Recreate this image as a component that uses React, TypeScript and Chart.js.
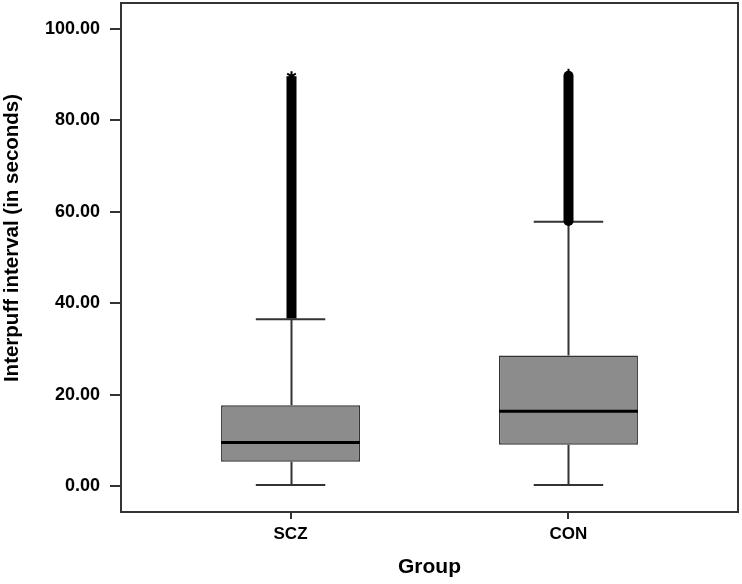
import React, { useEffect, useRef } from 'react';
import { Chart, registerables } from 'chart.js';

Chart.register(...registerables);

// ---- Data ----
const groups = ['SCZ', 'CON'];
const groupPositions = [1, 2];
const q1 = [5.4, 9.1];
const medians = [9.6, 16.4];
const q3 = [17.7, 28.6];
const whiskerLow = [0.3, 0.3];
const whiskerHigh = [36.5, 57.8];
const outlierLow = [36.7, 58.0];
const outlierHigh = [89.6, 89.7];
const yTickValues = [0, 20, 40, 60, 80, 100];
const yTitle = 'Interpuff interval (in seconds)';

const FONT = "'Liberation Sans', Arial, sans-serif";
const DARK = '#333333';

const boxExtras = {
  id: 'boxExtras',
  beforeDatasetsDraw(chart: any) {
    const { ctx, scales } = chart;
    const x = scales.x;
    const y = scales.y;
    ctx.save();
    ctx.strokeStyle = DARK;
    ctx.lineWidth = 2;
    groupPositions.forEach((p, i) => {
      const cx = Math.round(x.getPixelForValue(p)) + 0.5;
      const capL = x.getPixelForValue(p - 0.125);
      const capR = x.getPixelForValue(p + 0.125);
      ctx.beginPath();
      ctx.moveTo(cx, y.getPixelForValue(whiskerLow[i]));
      ctx.lineTo(cx, y.getPixelForValue(q1[i]));
      ctx.moveTo(cx, y.getPixelForValue(q3[i]));
      ctx.lineTo(cx, y.getPixelForValue(whiskerHigh[i]));
      ctx.moveTo(capL, y.getPixelForValue(whiskerLow[i]));
      ctx.lineTo(capR, y.getPixelForValue(whiskerLow[i]));
      ctx.moveTo(capL, y.getPixelForValue(whiskerHigh[i]));
      ctx.lineTo(capR, y.getPixelForValue(whiskerHigh[i]));
      ctx.stroke();
    });
    ctx.restore();
  },
  afterDatasetsDraw(chart: any) {
    const { ctx, scales, chartArea } = chart;
    const x = scales.x;
    const y = scales.y;
    ctx.save();
    // medians
    ctx.strokeStyle = '#000';
    ctx.lineWidth = 3;
    groupPositions.forEach((p, i) => {
      const my = y.getPixelForValue(medians[i]);
      ctx.beginPath();
      ctx.moveTo(x.getPixelForValue(p - 0.25), my);
      ctx.lineTo(x.getPixelForValue(p + 0.25), my);
      ctx.stroke();
    });
    // outliers (dense column of markers)
    groupPositions.forEach((p, i) => {
      const cx = Math.round(x.getPixelForValue(p)) + 0.5;
      const yTop = y.getPixelForValue(outlierHigh[i]);
      const yBot = y.getPixelForValue(outlierLow[i]);
      ctx.strokeStyle = '#000';
      ctx.fillStyle = '#000';
      if (i === 0) {
        ctx.fillRect(cx - 5, yTop, 10, yBot - yTop);
        ctx.lineWidth = 2;
        const r = 5;
        ctx.beginPath();
        for (let k = 0; k < 3; k++) {
          const a = (Math.PI / 3) * k + Math.PI / 2;
          ctx.moveTo(cx - r * Math.cos(a), yTop - r * Math.sin(a));
          ctx.lineTo(cx + r * Math.cos(a), yTop + r * Math.sin(a));
        }
        ctx.stroke();
      } else {
        ctx.lineWidth = 10;
        ctx.lineCap = 'round';
        ctx.beginPath();
        ctx.moveTo(cx, yBot);
        ctx.lineTo(cx, yTop);
        ctx.stroke();
        ctx.lineCap = 'butt';
        ctx.lineWidth = 2;
        ctx.beginPath();
        ctx.moveTo(cx, yTop - 7);
        ctx.lineTo(cx, yTop);
        ctx.stroke();
      }
    });
    // frame
    ctx.strokeStyle = DARK;
    ctx.lineWidth = 2;
    ctx.strokeRect(
      chartArea.left,
      chartArea.top,
      chartArea.right - chartArea.left,
      chartArea.bottom - chartArea.top
    );
    ctx.restore();
  },
  afterDraw(chart: any) {
    const { ctx } = chart;
    ctx.save();
    ctx.translate(12, 238);
    ctx.rotate(-Math.PI / 2);
    ctx.font = `bold 20.5px ${FONT}`;
    ctx.fillStyle = '#000';
    ctx.textAlign = 'center';
    ctx.textBaseline = 'middle';
    ctx.fillText(yTitle, 0, 0);
    ctx.restore();
  },
};

export default function App() {
  const canvasRef = useRef<HTMLCanvasElement | null>(null);

  useEffect(() => {
    document.body.style.margin = '0';
    const canvas = canvasRef.current;
    if (!canvas) return;
    const chart = new Chart(canvas, {
      type: 'bar',
      data: {
        datasets: [
          {
            label: 'Interpuff interval',
            data: groupPositions.map((p, i) => ({ x: p, y: [q1[i], q3[i]] })) as any,
            backgroundColor: '#8c8c8c',
            borderColor: DARK,
            borderWidth: 1.5,
            borderSkipped: false,
            categoryPercentage: 1,
            barPercentage: 0.5,
          },
        ],
      },
      options: {
        responsive: false,
        maintainAspectRatio: false,
        animation: false,
        devicePixelRatio: 1,
        layout: { padding: { left: 0, top: 3, right: 4, bottom: 0 } },
        plugins: {
          legend: { display: false },
          tooltip: { enabled: false },
          title: { display: false },
        },
        scales: {
          x: {
            type: 'linear',
            min: 0.39,
            max: 2.61,
            offset: false,
            afterBuildTicks: (scale: any) => {
              scale.ticks = groupPositions.map((v) => ({ value: v }));
            },
            afterFit: (scale: any) => {
              scale.height = 72;
              scale.paddingLeft = 0;
              scale.paddingRight = 0;
            },
            ticks: {
              autoSkip: false,
              maxRotation: 0,
              color: '#000',
              padding: 5,
              font: { family: FONT, size: 17, weight: 'bold' },
              callback: (v: any) => {
                const idx = groupPositions.indexOf(Number(v));
                return idx >= 0 ? groups[idx] : '';
              },
            },
            grid: {
              offset: false,
              drawOnChartArea: false,
              drawTicks: true,
              tickLength: 7,
              color: DARK,
              lineWidth: 2,
            },
            border: { display: true, color: DARK, width: 2 },
            title: {
              display: true,
              text: 'Group',
              color: '#000',
              padding: { top: 0, bottom: 4 },
              font: { family: FONT, size: 21, weight: 'bold' },
            },
          },
          y: {
            type: 'linear',
            min: -5.6,
            max: 105.6,
            afterBuildTicks: (scale: any) => {
              scale.ticks = yTickValues.map((v) => ({ value: v }));
            },
            afterFit: (scale: any) => {
              scale.width = 121;
              scale.paddingTop = 0;
              scale.paddingBottom = 0;
            },
            ticks: {
              color: '#000',
              padding: 10,
              font: { family: FONT, size: 18, weight: 'bold' },
              callback: (v: any) => Number(v).toFixed(2),
            },
            grid: {
              drawOnChartArea: false,
              drawTicks: true,
              tickLength: 11,
              color: DARK,
              lineWidth: 2,
            },
            border: { display: true, color: DARK, width: 2 },
            title: { display: false },
          },
        },
      },
      plugins: [boxExtras],
    });
    return () => chart.destroy();
  }, []);

  return (
    <div style={{ width: 742, height: 584 }}>
      <canvas ref={canvasRef} width={742} height={584} style={{ display: 'block' }} />
    </div>
  );
}
